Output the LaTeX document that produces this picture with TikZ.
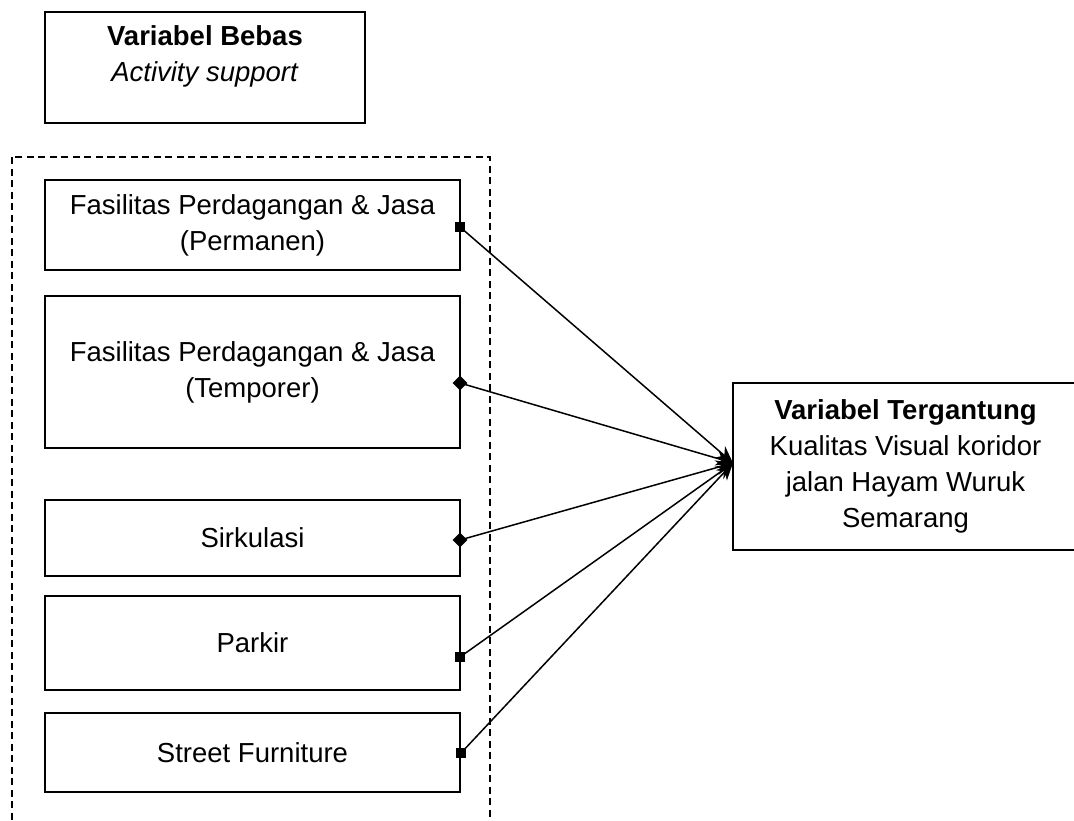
\documentclass[tikz,border=0pt]{standalone}
\usepackage{fontspec}
\setmainfont{Liberation Sans}
\usetikzlibrary{arrows.meta,shapes.geometric}
\begin{document}
\begin{tikzpicture}[x=1pt,y=-1pt,
  box/.style={draw,line width=1.6pt,rectangle,inner sep=0pt,align=center,
    font=\fontsize{27.5}{36}\selectfont},
  txt/.style={inner sep=0pt,align=center,font=\fontsize{27.5}{36}\selectfont},
  sqmark/.style={fill=black,rectangle,minimum size=10.5pt,inner sep=0pt},
  dmmark/.style={fill=black,diamond,minimum size=15pt,inner sep=0pt},
  link/.style={line width=1.5pt,-{Stealth[length=17pt,width=15pt]}},
  group/.style={draw,line width=1.5pt,dash pattern=on 7pt off 4.5pt}]
\useasboundingbox (0,0) rectangle (1074,820);
% independent variable header
\node[box,minimum width=320pt,minimum height=111pt] (vb) at (205,67.5) {};
\node[txt] (vbt) at (205,56.5) {\textbf{Variabel Bebas}\\\textit{Activity support}};
% dashed group
\draw[group] (12,157) rectangle (490,840);
% sub-variable boxes
\node[box,minimum width=415pt,minimum height=90pt] (b1) at (252.5,225) {Fasilitas Perdagangan \& Jasa\\(Permanen)};
\node[box,minimum width=415pt,minimum height=152pt] (b2) at (252.5,372) {Fasilitas Perdagangan \& Jasa\\(Temporer)};
\node[box,minimum width=415pt,minimum height=76pt] (b3) at (252.5,538) {Sirkulasi};
\node[box,minimum width=415pt,minimum height=94pt] (b4) at (252.5,643) {Parkir};
\node[box,minimum width=415pt,minimum height=79pt] (b5) at (252.5,752.5) {Street Furniture};
% dependent variable box
\node[box,minimum width=345pt,minimum height=167pt] (dv) at (905.5,466.5)
  {\textbf{Variabel Tergantung}\\Kualitas Visual koridor\\jalan Hayam Wuruk\\Semarang};
\coordinate (t) at (733,463);
% start markers
\node[sqmark] (m1) at (460,227) {};
\node[dmmark] (m2) at (460,383) {};
\node[dmmark] (m3) at (460,540) {};
\node[sqmark] (m4) at (460,657) {};
\node[sqmark] (m5) at (461,753) {};
% connectors
\foreach \m in {m1,m2,m3,m4,m5}
  \draw[link] (\m.center) -- (t);
\end{tikzpicture}
\end{document}
